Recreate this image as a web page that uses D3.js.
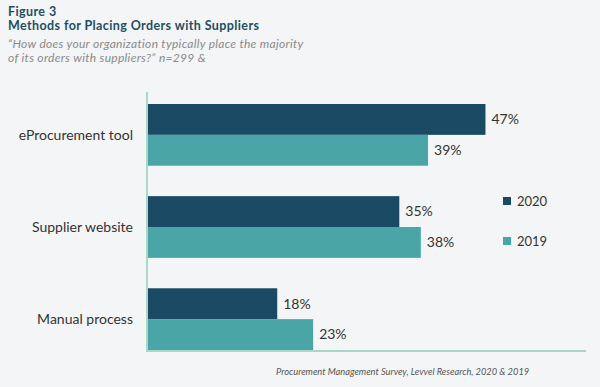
<!DOCTYPE html>
<html lang="en">
<head>
  <meta charset="UTF-8">
  <title>Methods for Placing Orders with Suppliers</title>
  <script src="https://d3js.org/d3.v7.min.js"></script>
  <style>
    body { margin: 0; background: #f3f5f7; }
    svg { display: block; font-family: Lato, "Open Sans", sans-serif; }
  </style>
</head>
<body>
<svg id="chart"></svg>
<script>
  // data
  const categories = ["eProcurement tool", "Supplier website", "Manual process"];
  const years = ["2020", "2019"];
  const values2020 = [47, 35, 18];
  const values2019 = [39, 38, 23];
  const colors = ["#1b4b64", "#4aa6a6"];

  const width = 600, height = 387;
  const svg = d3.select("#chart").attr("width", width).attr("height", height);

  svg.append("rect").attr("width", width).attr("height", height).attr("fill", "#f3f5f7");

  // titles
  svg.append("text").attr("x", 8).attr("y", 16).text("Figure 3")
    .attr("font-weight", 700).attr("font-size", 12.5).attr("letter-spacing", 0.4).attr("fill", "#1f4e63");
  svg.append("text").attr("x", 8).attr("y", 30).text("Methods for Placing Orders with Suppliers")
    .attr("font-weight", 700).attr("font-size", 12.5).attr("letter-spacing", 0.4).attr("fill", "#1f4e63");
  svg.append("text").attr("x", 8).attr("y", 48)
    .text("\u201CHow does your organization typically place the majority")
    .attr("font-style", "italic").attr("font-size", 12).attr("letter-spacing", 0.3).attr("fill", "#8a8a8a");
  svg.append("text").attr("x", 8).attr("y", 62)
    .text("of its orders with suppliers?\u201D n=299 &")
    .attr("font-style", "italic").attr("font-size", 12).attr("letter-spacing", 0.3).attr("fill", "#8a8a8a");

  const x = d3.scaleLinear().domain([0, 50]).range([148, 507]);
  const y = d3.scaleBand().domain(categories).range([104, 350]).paddingInner(0.33).paddingOuter(0);
  const y1 = d3.scaleBand().domain(years).range([0, y.bandwidth()]);

  const rows = categories.map((c, i) => ({cat: c, vals: [values2020[i], values2019[i]]}));

  const g = svg.selectAll("g.cat").data(rows).join("g")
    .attr("class", "cat")
    .attr("transform", d => `translate(0,${y(d.cat)})`);

  g.selectAll("rect").data(d => d.vals.map((v, j) => ({year: years[j], v, j})))
    .join("rect")
    .attr("x", x(0))
    .attr("y", d => y1(d.year))
    .attr("width", d => x(d.v) - x(0))
    .attr("height", y1.bandwidth())
    .attr("fill", d => colors[d.j]);

  g.selectAll("text.val").data(d => d.vals.map((v, j) => ({year: years[j], v})))
    .join("text")
    .attr("class", "val")
    .attr("x", d => x(d.v) + 6)
    .attr("y", d => y1(d.year) + y1.bandwidth() / 2)
    .attr("dy", "0.35em")
    .attr("font-size", 14)
    .attr("fill", "#333")
    .text(d => d.v + "%");

  // category labels
  svg.selectAll("text.cat").data(categories).join("text")
    .attr("class", "cat")
    .attr("x", 133)
    .attr("y", d => y(d) + y.bandwidth() / 2)
    .attr("dy", "0.35em")
    .attr("text-anchor", "end")
    .attr("font-size", 14)
    .attr("fill", "#333")
    .text(d => d);

  // axis lines
  const baseY = y(categories[2]) + y.bandwidth() + 1;
  svg.append("line").attr("x1", 147).attr("x2", 147).attr("y1", 92).attr("y2", baseY)
    .attr("stroke", "#a9d6c6").attr("stroke-width", 2);
  svg.append("line").attr("x1", 146).attr("x2", 586).attr("y1", baseY).attr("y2", baseY)
    .attr("stroke", "#a9d6c6").attr("stroke-width", 2);

  // legend
  const leg = svg.selectAll("g.leg").data(years).join("g")
    .attr("class", "leg")
    .attr("transform", (d, i) => `translate(503,${201 + i * 40})`);
  leg.append("rect").attr("x", 0).attr("y", -4).attr("width", 8).attr("height", 8)
    .attr("fill", (d, i) => colors[i]);
  leg.append("text").attr("x", 14).attr("dy", "0.35em").attr("font-size", 13)
    .attr("fill", "#333").text(d => d);

  // source
  svg.append("text").attr("x", 276).attr("y", 375)
    .text("Procurement Management Survey, Levvel Research, 2020 & 2019")
    .attr("font-style", "italic").attr("font-size", 9.3).attr("fill", "#555");
</script>
</body>
</html>
